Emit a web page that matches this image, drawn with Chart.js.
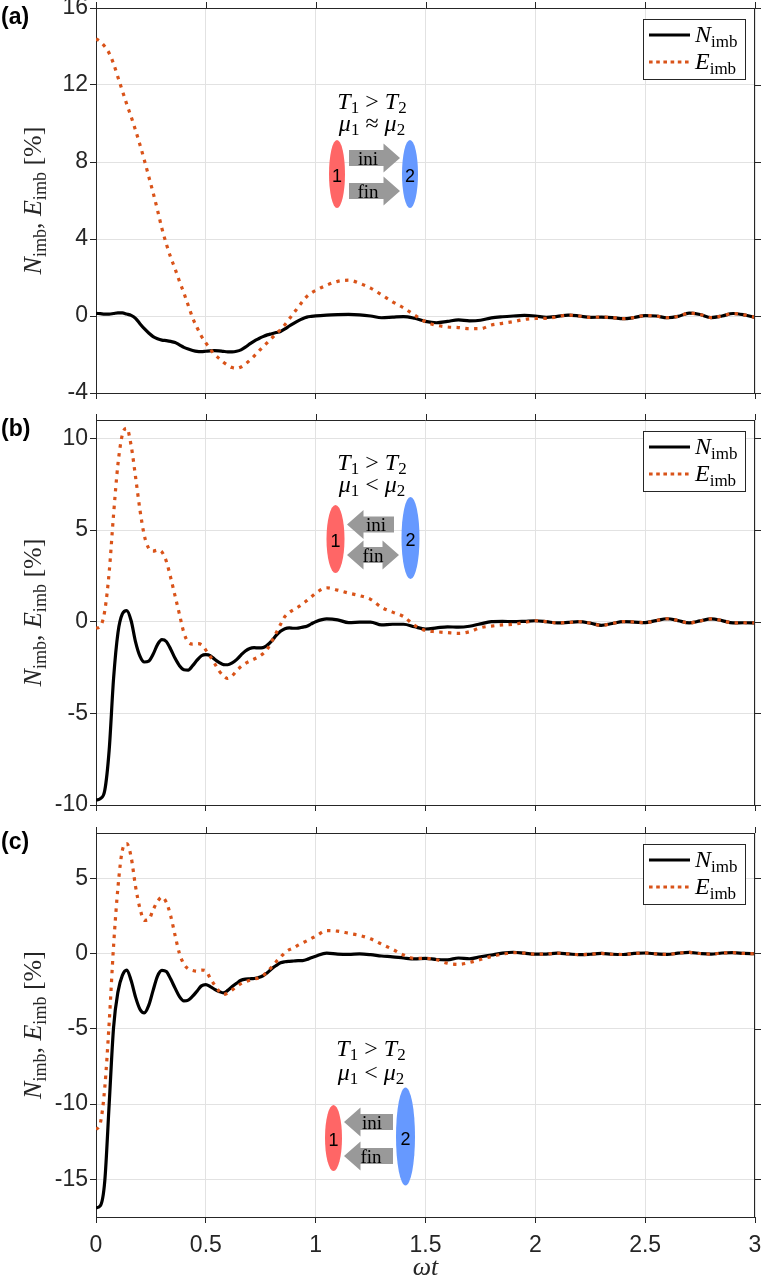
<!DOCTYPE html>
<html>
<head>
<meta charset="utf-8">
<script src="https://cdn.jsdelivr.net/npm/chart.js@4.4.1/dist/chart.umd.min.js"></script>
<style>
  body { margin: 0; background: #ffffff; width: 764px; height: 1285px; position: relative; overflow: hidden; }
  canvas { position: absolute; left: 0; }
  #overlay { position: absolute; left: 0; top: 0; }
</style>
</head>
<body>
<canvas id="panelA" width="764" height="415" style="top:0px"></canvas>
<canvas id="panelB" width="764" height="420" style="top:400px"></canvas>
<canvas id="panelC" width="764" height="472" style="top:813px"></canvas>
<svg id="overlay" width="764" height="1285" xmlns="http://www.w3.org/2000/svg"></svg>

<script>
// sample times (omega t): fine steps up to 1, coarser after
const xs = [0, 0.02, 0.04, 0.06, 0.08, 0.1, 0.12, 0.14, 0.16, 0.18,
  0.2, 0.22, 0.24, 0.26, 0.28, 0.3, 0.32, 0.34, 0.36, 0.38,
  0.4, 0.42, 0.44, 0.46, 0.48, 0.5, 0.52, 0.54, 0.56, 0.58,
  0.6, 0.62, 0.64, 0.66, 0.68, 0.7, 0.72, 0.74, 0.76, 0.78,
  0.8, 0.82, 0.84, 0.86, 0.88, 0.9, 0.92, 0.94, 0.96, 0.98, 1.0,
  1.05, 1.1, 1.15, 1.2, 1.25, 1.3, 1.35, 1.4, 1.45, 1.5,
  1.55, 1.6, 1.65, 1.7, 1.75, 1.8, 1.85, 1.9, 1.95, 2.0,
  2.05, 2.1, 2.15, 2.2, 2.25, 2.3, 2.35, 2.4, 2.45, 2.5,
  2.55, 2.6, 2.65, 2.7, 2.75, 2.8, 2.85, 2.9, 2.95, 3.0];

// panel (a)
const nImbA = [0.14, 0.12, 0.10, 0.10, 0.13, 0.16, 0.16, 0.10, 0.03, -0.12,
  -0.40, -0.66, -0.88, -1.07, -1.18, -1.25, -1.28, -1.32, -1.38, -1.50,
  -1.63, -1.72, -1.79, -1.84, -1.85, -1.83, -1.81, -1.80, -1.81, -1.84,
  -1.86, -1.86, -1.83, -1.76, -1.62, -1.45, -1.30, -1.18, -1.07, -0.98,
  -0.92, -0.86, -0.80, -0.67, -0.52, -0.38, -0.25, -0.14, -0.06, -0.02, 0.01,
  0.05, 0.07, 0.08, 0.06, 0.0, -0.09, -0.06, -0.03, -0.12, -0.28,
  -0.35, -0.28, -0.2, -0.25, -0.22, -0.1, -0.04, 0.0, 0.03, 0.0,
  -0.07, -0.02, 0.05, 0.0, -0.07, -0.06, -0.08, -0.14, -0.08, 0.02,
  0.0, -0.09, -0.02, 0.15, 0.08, -0.08, 0.0, 0.13, 0.06, -0.07];
const eImbA = [14.4, 14.25, 14.0, 13.65, 13.1, 12.4, 11.7, 11.0, 10.35, 9.65,
  8.9, 8.1, 7.25, 6.4, 5.5, 4.55, 3.75, 3.05, 2.45, 1.8,
  1.2, 0.55, -0.1, -0.6, -1.05, -1.4, -1.72, -2.0, -2.2, -2.4,
  -2.56, -2.68, -2.72, -2.65, -2.5, -2.3, -2.08, -1.84, -1.6, -1.38,
  -1.15, -0.93, -0.7, -0.45, -0.15, 0.15, 0.45, 0.75, 1.02, 1.2, 1.33,
  1.6, 1.8, 1.86, 1.7, 1.45, 1.1, 0.74, 0.42, 0.05, -0.3,
  -0.48, -0.57, -0.6, -0.66, -0.66, -0.47, -0.38, -0.29, -0.18, -0.13,
  -0.12, -0.04, 0.05, 0.0, -0.07, -0.06, -0.08, -0.14, -0.08, 0.02,
  0.0, -0.09, -0.02, 0.15, 0.08, -0.08, 0.0, 0.13, 0.06, -0.07];

// panel (b)
const nImbB = [-9.73, -9.65, -9.2, -7.0, -3.1, -0.6, 0.42, 0.6, 0.05, -1.1,
  -1.88, -2.2, -2.15, -1.78, -1.25, -0.98, -1.08, -1.5, -2.0, -2.4,
  -2.62, -2.64, -2.4, -2.1, -1.86, -1.8, -1.85, -2.05, -2.22, -2.34,
  -2.35, -2.25, -2.07, -1.82, -1.6, -1.46, -1.42, -1.43, -1.42, -1.28,
  -1.05, -0.75, -0.52, -0.38, -0.34, -0.36, -0.35, -0.3, -0.25, -0.12, 0.0,
  0.15, 0.1, -0.05, -0.03, -0.02, -0.18, -0.14, -0.14, -0.28, -0.4,
  -0.34, -0.28, -0.3, -0.25, -0.12, 0.0, 0.02, 0.0, 0.02, 0.05,
  0.0, -0.07, -0.04, 0.0, -0.08, -0.2, -0.1, 0.0, -0.02, -0.05,
  0.06, 0.16, 0.06, -0.07, 0.04, 0.15, 0.06, -0.07, -0.06, -0.07];
const eImbB = [-0.36, -0.25, 0.6, 2.7, 5.85, 8.6, 10.2, 10.55, 9.6, 7.9,
  6.1, 4.7, 4.0, 3.85, 3.9, 3.8, 3.3, 2.4, 1.4, 0.4,
  -0.6, -1.12, -1.22, -1.2, -1.25, -1.55, -1.9, -2.28, -2.68, -2.95,
  -3.1, -2.95, -2.68, -2.45, -2.28, -2.15, -2.04, -1.92, -1.75, -1.5,
  -1.08, -0.62, -0.15, 0.28, 0.5, 0.66, 0.8, 0.97, 1.15, 1.35, 1.55,
  1.85, 1.72, 1.56, 1.42, 1.22, 0.78, 0.52, 0.28, -0.2, -0.48,
  -0.55, -0.6, -0.64, -0.55, -0.33, -0.24, -0.18, -0.14, -0.05, 0.05,
  0.0, -0.07, -0.04, 0.0, -0.08, -0.2, -0.1, 0.0, -0.02, -0.05,
  0.06, 0.16, 0.06, -0.07, 0.04, 0.15, 0.06, -0.07, -0.06, -0.07];

// panel (c)
const nImbC = [-16.9, -16.75, -15.1, -10.0, -4.9, -2.55, -1.45, -1.1, -1.8, -2.9,
  -3.7, -3.95, -3.45, -2.45, -1.5, -1.12, -1.2, -1.7, -2.3, -2.86,
  -3.15, -3.1, -2.84, -2.5, -2.15, -2.07, -2.2, -2.38, -2.52, -2.62,
  -2.45, -2.2, -1.98, -1.78, -1.7, -1.68, -1.66, -1.6, -1.48, -1.28,
  -1.02, -0.8, -0.62, -0.55, -0.52, -0.5, -0.48, -0.47, -0.4, -0.28, -0.18,
  0.02, -0.04, -0.06, -0.03, -0.08, -0.17, -0.22, -0.3, -0.36, -0.32,
  -0.4, -0.42, -0.3, -0.35, -0.22, -0.1, 0.02, 0.08, 0.02, -0.05,
  -0.04, 0.02, -0.03, -0.08, -0.05, 0.0, -0.05, -0.07, 0.0, 0.03,
  -0.03, -0.06, 0.02, 0.07, 0.0, -0.04, 0.03, 0.05, 0.0, -0.02];
const eImbC = [-11.7, -11.25, -8.9, -4.6, 0.5, 4.4, 6.85, 7.3, 6.4, 4.45,
  3.0, 2.2, 2.25, 2.9, 3.45, 3.75, 3.4, 2.5, 1.2, 0.0,
  -0.7, -1.03, -1.13, -1.18, -1.1, -1.15, -1.65, -2.1, -2.5, -2.72,
  -2.62, -2.42, -2.2, -2.0, -1.88, -1.78, -1.7, -1.62, -1.48, -1.2,
  -0.9, -0.55, -0.25, 0.05, 0.25, 0.38, 0.55, 0.7, 0.84, 1.0, 1.14,
  1.52, 1.48, 1.34, 1.2, 0.97, 0.62, 0.28, -0.1, -0.33, -0.32,
  -0.42, -0.65, -0.72, -0.6, -0.4, -0.2, -0.05, 0.05, 0.02, -0.05,
  -0.04, 0.02, -0.03, -0.08, -0.05, 0.0, -0.05, -0.07, 0.0, 0.03,
  -0.03, -0.06, 0.02, 0.07, 0.0, -0.04, 0.03, 0.05, 0.0, -0.02];

const xTicks = [0, 0.5, 1, 1.5, 2, 2.5, 3];
const xTickLabels = ['0', '0.5', '1', '1.5', '2', '2.5', '3'];
const yTicksA = [-4, 0, 4, 8, 12, 16];
const yTicksB = [-10, -5, 0, 5, 10];
const yTicksC = [-15, -10, -5, 0, 5];
const yLimitsA = [-4, 16];
const yLimitsB = [-10, 11];
const yLimitsC = [-17.5, 8];

const AXIS_COLOR = '#262626';
const GRID_COLOR = '#e2e2e2';
const N_COLOR = '#000000';
const E_COLOR = '#D95319';

Chart.defaults.font.family = '"Liberation Sans", Arial, sans-serif';
Chart.defaults.color = AXIS_COLOR;

// draws the top and right box lines with outward ticks (matlab style box)
const boxPlugin = {
  id: 'box',
  afterDraw(chart) {
    const { ctx, chartArea: ca, scales } = chart;
    ctx.save();
    ctx.strokeStyle = AXIS_COLOR;
    ctx.lineWidth = 1;
    ctx.beginPath();
    ctx.moveTo(ca.left, ca.top + 0.5);
    ctx.lineTo(ca.right, ca.top + 0.5);
    ctx.moveTo(ca.right - 0.5, ca.top);
    ctx.lineTo(ca.right - 0.5, ca.bottom);
    for (const t of scales.x.ticks) {
      const px = Math.round(scales.x.getPixelForValue(t.value)) + 0.5;
      ctx.moveTo(px, ca.top);
      ctx.lineTo(px, ca.top - 6);
    }
    for (const t of scales.y.ticks) {
      const py = Math.round(scales.y.getPixelForValue(t.value)) + 0.5;
      ctx.moveTo(ca.right, py);
      ctx.lineTo(ca.right + 6, py);
    }
    ctx.stroke();
    ctx.restore();
  },
};

function makePanel(canvasId, nData, eData, yTicks, yLimits, padTop, xHeight, showXLabels) {
  const toPoints = (arr) => xs.map((x, i) => ({ x: x, y: arr[i] }));

  return new Chart(document.getElementById(canvasId), {
    type: 'line',
    data: {
      datasets: [
        {
          label: 'N_imb',
          data: toPoints(nData),
          borderColor: N_COLOR,
          borderWidth: 3.2,
          order: 2,
        },
        {
          label: 'E_imb',
          data: toPoints(eData),
          borderColor: E_COLOR,
          borderWidth: 3.2,
          borderDash: [3.4, 5.4],
          order: 1,
        },
      ],
    },
    options: {
      responsive: false,
      animation: false,
      layout: { padding: { top: padTop, right: 9, bottom: 0, left: 0 } },
      elements: {
        point: { radius: 0 },
        line: { cubicInterpolationMode: 'monotone', borderCapStyle: 'butt', borderJoinStyle: 'round' },
      },
      plugins: { legend: { display: false }, tooltip: { enabled: false } },
      scales: {
        x: {
          type: 'linear',
          min: 0,
          max: 3,
          afterBuildTicks: (scale) => { scale.ticks = xTicks.map((v) => ({ value: v })); },
          afterFit: (scale) => {
            scale.height = xHeight;
            scale.paddingLeft = 0;
            scale.paddingRight = 0;
          },
          ticks: {
            display: showXLabels,
            autoSkip: false,
            maxRotation: 0,
            padding: 9,
            font: { size: 23 },
            callback: (v, i) => xTickLabels[i],
          },
          grid: { color: GRID_COLOR, lineWidth: 1, tickColor: AXIS_COLOR, tickLength: 6 },
          border: { display: true, color: AXIS_COLOR, width: 1 },
          title: {
            display: showXLabels,
            text: 'ωt',
            color: AXIS_COLOR,
            font: { family: '"Liberation Serif", serif', style: 'italic', size: 26 },
            padding: { top: 0, bottom: 1 },
          },
        },
        y: {
          type: 'linear',
          min: yLimits[0],
          max: yLimits[1],
          afterBuildTicks: (scale) => { scale.ticks = yTicks.map((v) => ({ value: v })); },
          afterFit: (scale) => {
            scale.width = 96;
            scale.paddingTop = 0;
            scale.paddingBottom = 0;
          },
          ticks: {
            padding: 2,
            font: { size: 23 },
            callback: (v) => String(v),
          },
          grid: { color: GRID_COLOR, lineWidth: 1, tickColor: AXIS_COLOR, tickLength: 6 },
          border: { display: true, color: AXIS_COLOR, width: 1 },
        },
      },
    },
    plugins: [boxPlugin],
  });
}

makePanel('panelA', nImbA, eImbA, yTicksA, yLimitsA, 8, 22, false);
makePanel('panelB', nImbB, eImbB, yTicksB, yLimitsB, 20, 15, false);
makePanel('panelC', nImbC, eImbC, yTicksC, yLimitsC, 20, 68, true);

// ---- annotations: panel letters, y titles, legends, inset sketches ----
const SERIF = '&quot;Liberation Serif&quot;, serif';
const SANS = '&quot;Liberation Sans&quot;, Arial, sans-serif';

function sub(mainTxt, subTxt, italic, subSize) {
  return '<tspan font-style="' + (italic ? 'italic' : 'normal') + '">' + mainTxt + '</tspan>' +
    '<tspan font-style="normal" font-size="' + (subSize || 17) + '" dy="5">' + subTxt + '</tspan>';
}

function yTitle(cy) {
  return '<text transform="translate(36,' + cy + ') rotate(-90)" y="5" text-anchor="middle" ' +
    'font-family="' + SERIF + '" font-size="26" fill="' + AXIS_COLOR + '">' +
    sub('N', 'imb', true, 18) + '<tspan dy="-5">, </tspan>' + sub('E', 'imb', true, 18) +
    '<tspan dy="-5"> [%]</tspan></text>';
}

function legend(top) {
  let s = '<rect x="643.5" y="' + (top + 11.5) + '" width="102" height="60" fill="#ffffff" stroke="' + AXIS_COLOR + '" stroke-width="1"/>';
  s += '<line x1="649" x2="690" y1="' + (top + 27) + '" y2="' + (top + 27) + '" stroke="' + N_COLOR + '" stroke-width="3.2"/>';
  s += '<line x1="649" x2="690" y1="' + (top + 54) + '" y2="' + (top + 54) + '" stroke="' + E_COLOR + '" stroke-width="3.2" stroke-dasharray="3.6 3.6"/>';
  s += '<text x="695" y="' + (top + 34) + '" font-family="' + SERIF + '" font-size="24" fill="#000">' + sub('N', 'imb', true) + '</text>';
  s += '<text x="695" y="' + (top + 61) + '" font-family="' + SERIF + '" font-size="24" fill="#000">' + sub('E', 'imb', true) + '</text>';
  return s;
}

function panelLetter(top, letter) {
  return '<text x="1" y="' + (top + 16) + '" font-family="' + SANS + '" font-weight="bold" font-size="23" fill="#000">(' + letter + ')</text>';
}

function arrowPoints(x0, x1, cy, dir) {
  const hl = 16.5, bh = 8, hh = 14.5;
  let p;
  if (dir === 'right') {
    p = [[x0, cy - bh], [x1 - hl, cy - bh], [x1 - hl, cy - hh], [x1, cy], [x1 - hl, cy + hh], [x1 - hl, cy + bh], [x0, cy + bh]];
  } else if (dir === 'left') {
    p = [[x1, cy - bh], [x0 + hl, cy - bh], [x0 + hl, cy - hh], [x0, cy], [x0 + hl, cy + hh], [x0 + hl, cy + bh], [x1, cy + bh]];
  } else {
    p = [[x0, cy], [x0 + hl, cy - hh], [x0 + hl, cy - bh], [x1 - hl, cy - bh], [x1 - hl, cy - hh], [x1, cy],
      [x1 - hl, cy + hh], [x1 - hl, cy + bh], [x0 + hl, cy + bh], [x0 + hl, cy + hh]];
  }
  return p.map((q) => q[0] + ',' + q[1]).join(' ');
}

function inset(c) {
  let s = '';
  s += '<text x="' + c.cx + '" y="' + c.base1 + '" text-anchor="middle" font-family="' + SERIF + '" font-size="24" fill="#000">' +
    '<tspan font-style="italic">T</tspan><tspan font-size="17" dy="4">1</tspan><tspan dy="-4"> &gt; </tspan>' +
    '<tspan font-style="italic">T</tspan><tspan font-size="17" dy="4">2</tspan></text>';
  s += '<text x="' + c.cx + '" y="' + c.base2 + '" text-anchor="middle" font-family="' + SERIF + '" font-size="24" fill="#000">' +
    '<tspan font-style="italic">μ</tspan><tspan font-size="17" dy="4">1</tspan><tspan dy="-4"> ' + c.rel + ' </tspan>' +
    '<tspan font-style="italic">μ</tspan><tspan font-size="17" dy="4">2</tspan></text>';
  s += '<ellipse cx="' + c.red[0] + '" cy="' + c.red[1] + '" rx="' + c.red[2] + '" ry="' + c.red[3] + '" fill="#ff6666"/>';
  s += '<ellipse cx="' + c.blue[0] + '" cy="' + c.blue[1] + '" rx="' + c.blue[2] + '" ry="' + c.blue[3] + '" fill="#6699ff"/>';
  s += '<text x="' + c.red[0] + '" y="' + (c.red[1] + 8) + '" text-anchor="middle" font-family="' + SANS + '" font-size="18" fill="#000">1</text>';
  s += '<text x="' + c.blue[0] + '" y="' + (c.blue[1] + 8) + '" text-anchor="middle" font-family="' + SANS + '" font-size="18" fill="#000">2</text>';
  for (const a of [c.ini, c.fin]) {
    s += '<polygon points="' + arrowPoints(a.x0, a.x1, a.cy, a.dir) + '" fill="#999999"/>';
    s += '<text x="' + a.tx + '" y="' + (a.cy + 6.5) + '" text-anchor="middle" font-family="' + SERIF + '" font-size="19" fill="#000">' + a.label + '</text>';
  }
  return s;
}

const panelTops = [8, 420, 833];
const panelBottoms = [393, 805, 1217];
const panelLetters = ['a', 'b', 'c'];

const insets = [
  {
    cx: 372, base1: 109, base2: 131, rel: '≈',
    red: [337, 174, 8, 34], blue: [410, 174, 8, 34],
    ini: { x0: 349, x1: 400, cy: 158, dir: 'right', tx: 368, label: 'ini' },
    fin: { x0: 349, x1: 400, cy: 191, dir: 'right', tx: 368, label: 'fin' },
  },
  {
    cx: 372, base1: 470, base2: 492, rel: '&lt;',
    red: [335.5, 539, 9, 34], blue: [410.5, 538, 9, 41],
    ini: { x0: 347, x1: 394, cy: 524.5, dir: 'left', tx: 376, label: 'ini' },
    fin: { x0: 347, x1: 399, cy: 555, dir: 'both', tx: 373, label: 'fin' },
  },
  {
    cx: 371, base1: 1056, base2: 1080, rel: '&lt;',
    red: [333.5, 1138, 8.5, 33], blue: [405.5, 1136.5, 9.5, 49],
    ini: { x0: 344, x1: 393, cy: 1122, dir: 'left', tx: 372, label: 'ini' },
    fin: { x0: 344, x1: 393, cy: 1156, dir: 'left', tx: 371, label: 'fin' },
  },
];

let svg = '';
for (let i = 0; i < 3; i++) {
  svg += panelLetter(panelTops[i], panelLetters[i]);
  svg += yTitle((panelTops[i] + panelBottoms[i]) / 2);
  svg += legend(panelTops[i]);
  svg += inset(insets[i]);
}
document.getElementById('overlay').innerHTML = svg;
</script>
</body>
</html>
